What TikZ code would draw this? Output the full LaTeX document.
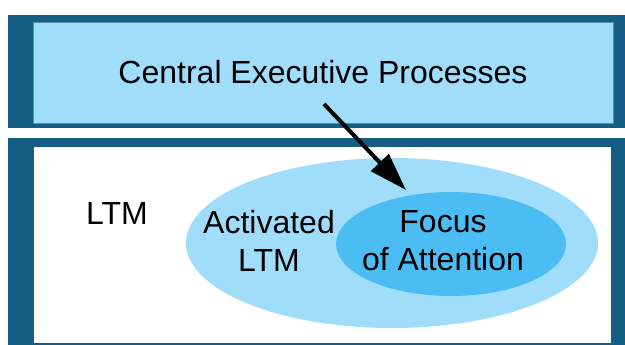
\documentclass[tikz,border=0pt]{standalone}
\usepackage{fontspec}
\setmainfont{Liberation Sans}
\usetikzlibrary{arrows.meta,shapes.geometric}
\definecolor{frameblue}{RGB}{19,94,130}
\definecolor{paleblue}{RGB}{160,221,251}
\definecolor{midblue}{RGB}{75,189,242}
\tikzset{
  frame/.style={fill=frameblue,draw=none},
  label/.style={font=\fontsize{32}{38}\selectfont,align=center,inner sep=0pt},
  blob/.style={ellipse,draw=none,inner sep=0pt},
}
\begin{document}
\begin{tikzpicture}[x=1pt,y=-1pt]
\useasboundingbox (0,0) rectangle (625,345);
% upper band: central executive
\fill[frameblue] (8,15) rectangle (625,128);
\fill[paleblue,draw=frameblue!70,line width=0.8pt] (33,22) rectangle (613,123);
% lower band: long-term memory
\fill[frameblue] (8,138) rectangle (625,345);
\fill[white] (34,147) rectangle (611,343);
% nested memory regions
\node[blob,fill=paleblue,minimum width=412,minimum height=170] (act) at (392,243) {};
\node[blob,fill=midblue,minimum width=230,minimum height=104] (foc) at (451,244) {};
% texts
\node[label] (ce) at (323,72) {Central Executive Processes};
\node[label] (ltm) at (117,213) {LTM};
\node[label] (actl) at (269,241) {Activated\\LTM};
\node[label] (focl) at (443,241) {Focus\\of Attention};
% control arrow
\coordinate (src) at (324,104);
\coordinate (dst) at (406,190);
\draw[line width=4pt,-{Triangle[length=38pt,width=24pt]}] (src) -- (dst);
\end{tikzpicture}
\end{document}
